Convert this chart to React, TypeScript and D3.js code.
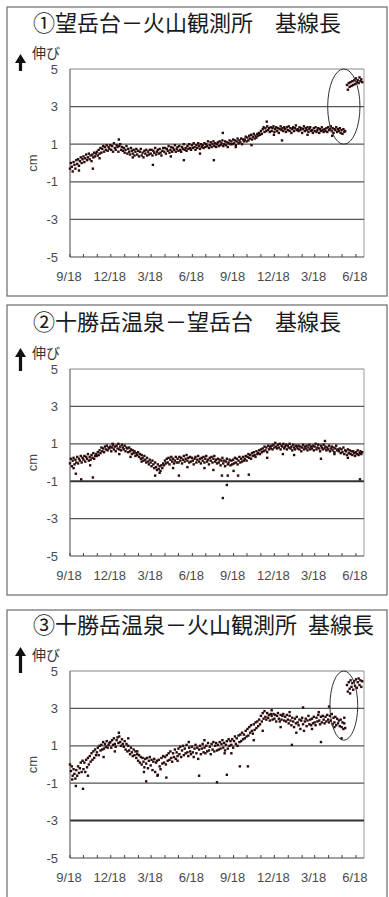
import React from 'react';
import * as d3 from 'd3';

// Baseline-length time series, one value every STEP_DAYS days from START.
const START = new Date(2004, 8, 18);
const END = new Date(2006, 6, 6);
const STEP_DAYS = 2;

const Y_TICKS = [5, 3, 1, -1, -3, -5];
const GRID_VALUES = [3, 1, -1, -3];
const MONTH_TICK_COUNT = 22;

const TITLES = [
  '①望岳台－火山観測所　基線長',
  '②十勝岳温泉－望岳台　基線長',
  '③十勝岳温泉－火山観測所\u2002基線長',
];

// ① 望岳台－火山観測所 (cm)
const P1_VALUES: (number | null)[] = [
  -0.3, 0.0, -0.2, -0.45, 0.05, -0.1, -0.3, 0.15, -0.05, 0.2, -0.15, 0.1, 0.3, 0.0, 0.2,
  0.35, 0.05, 0.25, 0.45, 0.15, 0.3, 0.5, 0.2, 0.4, 0.1, 0.45, 0.3, 0.55, 0.35, 0.5,
  0.6, 0.4, 0.7, 0.5, 0.8, 0.55, 0.75, 0.9, 0.6, 0.85, 0.7, 0.95, 0.65, 0.85, 0.75,
  0.95, 0.7, 0.9, 0.6, 1.05, 0.8, 0.7, 0.95, 0.85, 0.6, 0.9, 1.0, 0.7, 0.85, 0.65,
  0.8, 0.55, 0.7, 0.9, 0.5, 0.75, 0.6, 0.45, 0.8, 0.65, 0.5, 0.7, 0.4, 0.6, 0.75,
  0.45, 0.65, 0.35, 0.6, 0.75, 0.4, 0.55, 0.3, 0.65, 0.5, 0.7, 0.4, 0.6, 0.45, 0.7,
  0.5, 0.7, 0.4, 0.65, 0.55, 0.8, 0.45, 0.6, 0.7, 0.5, 0.75, 0.55, 0.4, 0.65, 0.8,
  0.6, 0.8, 0.5, 0.75, 0.65, 0.9, 0.55, 0.7, 0.85, 0.6, 0.8, 0.7, 0.95, 0.6, 0.75,
  0.85, 0.65, 0.9, 0.7, 0.6, 0.85, 0.75, 1.0, 0.7, 0.8, 0.65, 0.9, 0.75, 1.0, 0.8,
  0.7, 0.95, 0.8, 1.05, 0.85, 0.7, 0.95, 0.8, 1.05, 0.9, 0.75, 1.0, 0.85, 0.95, 0.8,
  1.05, 0.85, 1.0, 0.9, 1.15, 0.8, 0.95, 1.1, 0.85, 1.0, 1.15, 0.9, 1.05, 0.85, 1.0,
  1.1, 0.9, 1.15, 0.95, 1.05, 1.2, 0.9, 1.0, 1.15, 0.95, 1.1, 0.85, 1.05, 1.2, 1.0,
  1.15, 1.0, 1.25, 1.05, 1.2, 0.95, 1.15, 1.3, 1.05, 1.2, 1.1, 1.3, 1.0, 1.25, 1.15,
  1.25, 1.4, 1.15, 1.35, 1.2, 1.45, 1.3, 1.5, 1.25, 1.4, 1.55, 1.3, 1.45, 1.35, 1.55,
  1.45, 1.6, 1.5, 1.7, 1.55, 1.8, 1.9, 1.65, 1.85, 1.7, 1.95, 1.75, 1.85, 1.65, 1.9,
  1.7, 1.85, 1.95, 1.65, 1.8, 1.9, 1.7, 1.85, 1.6, 1.8, 1.95, 1.75, 1.85, 1.7, 1.9,
  1.8, 1.65, 1.9, 1.75, 1.95, 1.7, 1.85, 1.6, 1.8, 1.9, 1.7, 1.85, 2.0, 1.75, 1.8,
  1.7, 1.9, 1.75, 1.85, 1.6, 1.8, 1.95, 1.7, 1.85, 1.75, 1.9, 1.65, 1.8, 1.9, 1.7,
  1.75, 1.6, 1.85, 1.7, 1.9, 1.65, 1.75, 1.85, 1.6, 1.8, 1.7, 1.9, 1.75, 1.65, 1.8,
  1.7, 1.85, 1.65, 1.9, 1.75, 1.8, 1.95, 1.7, 1.85, 1.6, 1.8, 1.75, 1.9, 1.65, 1.8,
  1.7, 1.85, 1.6, 1.75, 1.55, 1.8, 1.65, 1.7, null, 4.15, 3.9, 4.25, 4.05, 4.3, 4.1,
  4.35, 4.15, 4.4, 4.2, 4.5, 4.3, 4.4, 4.25, 4.55, 4.35, 4.45, 4.3,
];
// [day, cm] readings off the main band
const P1_SCATTER: [number, number][] = [
  [51, -0.3], [109, 1.25], [185, -0.1], [254, 0.15], [321, 0.15], [341, 1.6],
  [439, 2.2], [473, 1.2], [20, -0.4], [66, 0.25], [140, 0.3], [225, 0.35],
  [290, 0.5], [370, 0.85], [405, 0.95], [455, 1.5], [530, 1.5], [585, 1.45],
];

// ② 十勝岳温泉－望岳台 (cm)
const P2_VALUES: (number | null)[] = [
  -0.05, 0.2, -0.2, 0.1, 0.25, -0.1, 0.15, 0.0, 0.3, -0.05, 0.2, 0.1, 0.35, 0.0, 0.25,
  0.15, 0.35, 0.05, 0.3, 0.2, 0.45, 0.1, 0.3, 0.15, 0.4, 0.25, 0.5, 0.2, 0.35, 0.45,
  0.35, 0.55, 0.4, 0.65, 0.5, 0.8, 0.6, 0.75, 0.55, 0.85, 0.7, 0.9, 0.65, 0.8, 0.75,
  0.85, 0.6, 0.8, 0.95, 0.7, 0.85, 0.6, 0.9, 0.75, 1.0, 0.7, 0.85, 0.65, 0.95, 0.8,
  0.7, 0.9, 0.6, 0.8, 0.75, 0.55, 0.8, 0.6, 0.7, 0.45, 0.65, 0.5, 0.6, 0.35, 0.5,
  0.4, 0.55, 0.3, 0.45, 0.2, 0.4, 0.25, 0.1, 0.35, 0.15, 0.0, 0.25, 0.05, -0.1, 0.15,
  0.0, -0.2, 0.1, -0.1, -0.3, 0.0, -0.25, -0.4, -0.1, -0.35, -0.2, -0.45, -0.15, -0.3, -0.05,
  -0.15, 0.1, -0.05, 0.2, 0.0, 0.25, -0.1, 0.15, 0.3, 0.05, 0.2, -0.05, 0.1, 0.3, 0.0,
  0.2, 0.0, 0.3, 0.1, 0.25, -0.05, 0.15, 0.35, 0.05, 0.2, 0.4, 0.1, 0.25, 0.0, 0.3,
  0.05, 0.25, 0.1, -0.1, 0.2, 0.3, 0.0, 0.15, 0.35, 0.05, 0.2, -0.05, 0.25, 0.1, 0.3,
  0.0, 0.2, 0.35, 0.05, 0.15, -0.1, 0.25, 0.1, 0.3, 0.0, 0.2, 0.35, 0.05, 0.15, -0.05,
  0.2, 0.0, 0.15, -0.15, 0.1, 0.25, -0.05, 0.1, -0.2, 0.05, 0.2, -0.1, 0.0, 0.15, -0.15,
  0.1, -0.1, 0.15, -0.05, 0.25, 0.0, 0.2, -0.1, 0.1, 0.3, 0.0, 0.2, 0.05, 0.3, 0.1,
  0.2, 0.35, 0.1, 0.3, 0.45, 0.25, 0.4, 0.2, 0.5, 0.35, 0.55, 0.4, 0.3, 0.6, 0.45,
  0.5, 0.65, 0.45, 0.7, 0.55, 0.75, 0.6, 0.85, 0.65, 0.8, 0.55, 0.9, 0.7, 0.85, 0.75,
  0.9, 0.7, 0.95, 0.8, 1.05, 0.85, 0.75, 0.95, 0.8, 1.0, 0.7, 0.9, 0.85, 1.0, 0.75,
  0.85, 0.95, 0.7, 0.9, 0.8, 1.0, 0.75, 0.85, 0.65, 0.95, 0.8, 0.7, 0.9, 0.85, 0.75,
  0.9, 0.7, 0.85, 0.6, 0.8, 0.95, 0.7, 0.85, 0.75, 0.9, 0.65, 0.8, 0.95, 0.7, 0.85,
  0.75, 0.9, 0.65, 0.85, 1.0, 0.7, 0.8, 0.95, 0.75, 0.6, 0.9, 0.8, 0.7, 0.95, 0.75,
  0.85, 0.65, 0.8, 0.7, 0.9, 0.6, 0.75, 0.85, 0.65, 0.8, 0.55, 0.75, 0.9, 0.65, 0.7,
  0.6, 0.75, 0.5, 0.7, 0.55, 0.8, 0.45, 0.65, 0.6, 0.4, 0.7, 0.5, 0.65, 0.45, 0.6,
  0.4, 0.6, 0.5, 0.35, 0.55, 0.45, 0.65, 0.4, 0.5, 0.6, 0.45, 0.55,
];
const P2_SCATTER: [number, number][] = [
  [13, -0.6], [25, -0.9], [51, -0.8], [190, -0.7], [243, -0.7], [339, -0.7],
  [341, -1.9], [350, -1.2], [352, -0.7], [375, -0.7], [399, -0.65], [569, 1.15],
  [647, -0.9], [8, -0.3], [45, -0.15], [110, 0.45], [135, 0.3], [160, 0.05],
  [200, -0.55], [230, -0.3], [262, -0.25], [300, -0.3], [320, -0.4], [365, -0.45],
  [440, 0.25], [475, 0.45], [500, 0.4], [560, 0.2], [590, 0.45], [620, 0.25], [95, 1.0],
];

// ③ 十勝岳温泉－火山観測所 (cm)
const P3_VALUES: (number | null)[] = [
  0.0, -0.35, -0.1, -0.6, -0.25, -0.5, -0.75, -0.3, -0.6, -0.1, -0.45, -0.2, 0.1, -0.4, 0.2,
  -0.25, 0.1, -0.4, 0.25, -0.15, 0.35, 0.0, 0.45, 0.15, 0.6, 0.25, 0.7, 0.35, 0.8, 0.5,
  0.65, 0.9, 0.5, 1.0, 0.75, 1.05, 0.8, 1.2, 0.85, 1.1, 0.95, 1.25, 0.9, 1.05, 1.15,
  1.2, 0.9, 1.3, 1.05, 1.4, 1.1, 0.95, 1.3, 1.45, 1.15, 1.5, 1.2, 1.0, 1.35, 1.1,
  0.95, 1.25, 0.8, 1.1, 0.7, 1.0, 0.75, 0.55, 0.9, 0.65, 0.45, 0.8, 0.5, 0.7, 0.35,
  0.55, 0.2, 0.5, 0.1, 0.4, 0.0, 0.35, 0.15, -0.15, 0.3, 0.05, 0.35, -0.2, 0.2, 0.4,
  -0.05, 0.25, -0.3, 0.15, 0.3, -0.4, 0.1, 0.2, -0.55, 0.25, -0.1, -0.25, 0.35, 0.05, 0.45,
  0.1, 0.4, 0.0, 0.5, 0.2, 0.6, 0.25, 0.7, 0.35, 0.15, 0.6, 0.4, 0.8, 0.3, 0.65,
  0.45, 0.85, 0.55, 0.95, 0.4, 0.75, 1.0, 0.5, 0.85, 0.6, 1.05, 0.65, 0.45, 0.9, 0.7,
  0.55, 0.95, 0.65, 0.4, 0.85, 1.05, 0.6, 0.9, 0.3, 0.8, 1.0, 0.55, 0.85, 1.1, 0.65,
  0.9, 0.6, 1.0, 0.7, 1.15, 0.75, 0.95, 0.55, 1.1, 0.8, 1.2, 0.7, 1.0, 1.15, 0.75,
  1.05, 0.8, 1.2, 0.85, 1.1, 1.3, 0.9, 1.15, 0.75, 1.05, 1.25, 0.85, 1.35, 1.0, 1.25,
  1.05, 1.35, 0.9, 1.25, 1.5, 1.1, 1.4, 1.0, 1.55, 1.2, 1.6, 1.25, 1.7, 1.35, 1.6,
  1.4, 1.8, 1.5, 1.9, 1.55, 2.0, 1.7, 2.1, 1.8, 1.65, 2.15, 1.85, 2.25, 1.95, 2.3,
  2.05, 2.4, 2.15, 2.6, 2.3, 2.75, 2.45, 2.85, 2.55, 2.4, 2.75, 2.5, 2.65, 2.35, 2.7,
  2.6, 2.4, 2.7, 2.45, 2.65, 2.3, 2.6, 2.75, 2.45, 2.3, 2.65, 2.4, 2.6, 2.7, 2.35,
  2.55, 2.3, 2.65, 2.4, 2.2, 2.6, 2.35, 2.1, 2.5, 2.3, 2.0, 2.45, 2.2, 2.55, 2.25,
  2.1, 2.4, 1.9, 2.35, 2.5, 2.15, 1.8, 2.3, 2.45, 2.05, 2.35, 2.6, 2.15, 2.4, 2.1,
  2.45, 2.2, 2.55, 2.25, 2.1, 2.5, 2.3, 2.65, 2.35, 2.15, 2.55, 2.25, 2.6, 2.4, 2.2,
  2.55, 2.3, 2.65, 2.4, 2.25, 2.6, 2.35, 2.7, 2.15, 2.5, 2.25, 2.55, 2.1, 2.45, 2.2,
  2.35, 2.05, 2.4, 2.0, 2.25, 1.9, 2.2, 1.95, null, 4.25, 3.9, 4.4, 4.05, 4.5, 4.15,
  4.35, 4.0, 4.45, 4.2, 4.55, 4.1, 4.4, 4.6, 4.25, 4.5, 4.15, 4.45,
];
const P3_SCATTER: [number, number][] = [
  [13, -1.15], [29, -1.3], [109, 1.7], [170, -0.9], [288, -0.6], [328, -0.95],
  [350, -0.55], [379, -0.1], [397, -0.1], [495, 1.05], [520, 3.05], [560, 1.2],
  [578, 3.1], [5, -0.8], [40, -0.6], [75, 0.4], [100, 0.7], [130, 1.4], [150, 0.7],
  [165, -0.4], [195, -0.6], [215, -0.7], [240, 0.2], [265, 1.2], [300, 1.3],
  [345, 0.6], [360, 0.6], [410, 1.3], [430, 1.8], [450, 2.9], [470, 2.0], [490, 2.8],
  [505, 1.7], [540, 1.9], [555, 2.8], [590, 2.0], [606, 1.4], [612, 2.5], [625, 3.8],
];

// Circled region highlighting the recent step (day, cm centre and radii)
const P1_ELLIPSE = { day: 611, value: 3.0, rDays: 36, rValue: 2.0 };
const P3_ELLIPSE = { day: 611, value: 3.15, rDays: 31, rValue: 1.85 };

const PLOT_LEFT = 70;
const PLOT_RIGHT = 364;
const BOX_LEFT = 7;
const BOX_RIGHT = 387;

type Ellipse = { day: number; value: number; rDays: number; rValue: number };
type PanelSpec = {
  title: string;
  values: (number | null)[];
  scatter: [number, number][];
  ellipse: Ellipse | null;
  boxTop: number;
  boxBottom: number;
  titleY: number;
  plotTop: number;
  plotBottom: number;
  arrowTop: number;
  heavyGrid: number | null;
};

const PANELS: PanelSpec[] = [
  { title: TITLES[0], values: P1_VALUES, scatter: P1_SCATTER, ellipse: P1_ELLIPSE,
    boxTop: 7, boxBottom: 296, titleY: 31, plotTop: 69, plotBottom: 257, arrowTop: 54, heavyGrid: null },
  { title: TITLES[1], values: P2_VALUES, scatter: P2_SCATTER, ellipse: null,
    boxTop: 305, boxBottom: 595, titleY: 330, plotTop: 369, plotBottom: 556, arrowTop: 348, heavyGrid: -1 },
  { title: TITLES[2], values: P3_VALUES, scatter: P3_SCATTER, ellipse: P3_ELLIPSE,
    boxTop: 610, boxBottom: 910, titleY: 633, plotTop: 671, plotBottom: 858, arrowTop: 647, heavyGrid: -3 },
];

const DOT = '#2a0a0a';
const LABEL = '#4a4a4a';
const CJK = "'Noto Sans CJK JP', 'Noto Sans', sans-serif";

function Panel({ p, x, monthTicks }: { p: PanelSpec; x: d3.ScaleTime<number, number>; monthTicks: Date[] }) {
  const y = d3.scaleLinear().domain([-5, 5]).range([p.plotBottom, p.plotTop]);
  const band = p.values
    .map((v, i) => (v == null ? null : { date: d3.timeDay.offset(START, i * STEP_DAYS), v }))
    .filter((d): d is { date: Date; v: number } => d !== null);
  const extra = p.scatter.map(([d, v]) => ({ date: d3.timeDay.offset(START, d), v }));
  const pts = band.concat(extra);

  let ell: React.ReactNode = null;
  if (p.ellipse) {
    const e = p.ellipse;
    const cx = x(d3.timeDay.offset(START, e.day));
    const rx = x(d3.timeDay.offset(START, e.day + e.rDays)) - cx;
    const cy = y(e.value);
    const ry = y(e.value - e.rValue) - cy;
    ell = <ellipse cx={cx} cy={cy} rx={rx} ry={ry} fill="none" stroke="#333" strokeWidth={1} />;
  }

  const ax = 20.5;
  const arrowBottom = p.plotTop + 2;

  return (
    <g>
      <rect x={BOX_LEFT} y={p.boxTop} width={BOX_RIGHT - BOX_LEFT} height={p.boxBottom - p.boxTop}
        fill="#fff" stroke="#6a6a6a" strokeWidth={1.2} />
      <text x={33} y={p.titleY} fontFamily={CJK} fontSize={22} fill="#1a1a1a">{p.title}</text>

      {/* upward arrow: extension */}
      <rect x={ax - 1.6} y={p.arrowTop + 7} width={3.2} height={arrowBottom - p.arrowTop - 7} fill="#111" />
      <path d={`M${ax},${p.arrowTop} L${ax - 5.5},${p.arrowTop + 9} L${ax + 5.5},${p.arrowTop + 9} Z`} fill="#111" />
      <text x={32} y={p.plotTop - 11} fontFamily={CJK} fontSize={14} fill="#333">伸び</text>

      {/* plot frame */}
      <line x1={PLOT_LEFT} x2={PLOT_RIGHT} y1={y(5)} y2={y(5)} stroke="#888" strokeWidth={1} />
      <line x1={PLOT_RIGHT} x2={PLOT_RIGHT} y1={y(5)} y2={y(-5)} stroke="#999" strokeWidth={1} />
      {GRID_VALUES.map(g => (
        <line key={g} x1={PLOT_LEFT} x2={PLOT_RIGHT} y1={y(g)} y2={y(g)}
          stroke={g === p.heavyGrid ? '#333' : '#555'} strokeWidth={g === p.heavyGrid ? 2 : 1.2} />
      ))}
      <line x1={PLOT_LEFT} x2={PLOT_LEFT} y1={y(5)} y2={y(-5)} stroke="#666" strokeWidth={1.2} />
      <line x1={PLOT_LEFT} x2={PLOT_RIGHT} y1={y(-5)} y2={y(-5)} stroke="#444" strokeWidth={1.2} />
      {monthTicks.map((t, i) => (
        <line key={i} x1={x(t)} x2={x(t)} y1={y(-5)} y2={y(-5) - 3} stroke="#444" strokeWidth={1} />
      ))}

      {/* y labels */}
      {Y_TICKS.map(t => (
        <text key={t} x={58} y={y(t) + 4.5} textAnchor="end" fontSize={13} fill={LABEL}>{t}</text>
      ))}
      <text transform={`translate(37,${y(0)}) rotate(-90)`} textAnchor="middle" fontSize={13} fill={LABEL}>cm</text>

      {/* x labels */}
      {monthTicks.filter((_, i) => i % 3 === 0).map((t, i) => (
        <text key={i} x={x(t) - 1} y={p.plotBottom + 24} textAnchor="middle" fontSize={13} fill={LABEL}>
          {`${t.getMonth() + 1}/18`}
        </text>
      ))}

      {/* readings */}
      {pts.map((d, i) => (
        <rect key={i} x={x(d.date) - 1.2} y={y(d.v) - 1.2} width={2.4} height={2.4} fill={DOT} />
      ))}
      {ell}
    </g>
  );
}

export default function App() {
  const x = d3.scaleTime().domain([START, END]).range([PLOT_LEFT, PLOT_RIGHT]);
  const monthTicks = d3.range(0, MONTH_TICK_COUNT).map(i => new Date(2004, 8 + i, 18));
  return (
    <svg width={389} height={897} style={{ position: 'absolute', left: 0, top: 0, background: '#fff' }}
      fontFamily="'Liberation Sans', Arial, sans-serif">
      {PANELS.map((p, i) => <Panel key={i} p={p} x={x} monthTicks={monthTicks} />)}
    </svg>
  );
}
